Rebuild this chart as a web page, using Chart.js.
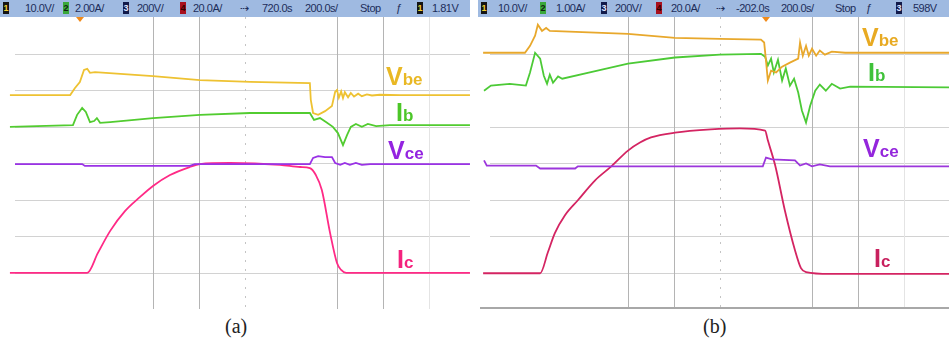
<!DOCTYPE html>
<html>
<head>
<meta charset="utf-8">
<script src="https://cdn.jsdelivr.net/npm/chart.js@4.4.0/dist/chart.umd.min.js"></script>
<style>
  html, body { margin: 0; padding: 0; background: #fff; }
  body { width: 949px; height: 347px; position: relative; overflow: hidden; font-family: "Liberation Sans", Arial, sans-serif; }
  .panel { position: absolute; top: 0; height: 310px; }
  #panelA { left: 0; width: 470px; }
  #panelB { left: 478px; width: 471px; }
  .bar { position: absolute; left: 0; top: 0; right: 0; height: 17px; background: #9fbae1; color: #1d2d5a; font-size: 11px; letter-spacing: -0.5px; }
  .bar span { position: absolute; top: 2px; line-height: 13px; white-space: nowrap; }
  .bar .ch { width: 6px; height: 12px; top: 2px; font-size: 9px; line-height: 12px; text-align: center; font-weight: bold; letter-spacing: 0; }
  .c1 { background: #141414; color: #f0d030; }
  .c2 { background: #3aa83a; color: #102010; }
  .c3 { background: #121a4a; color: #e0e6ff; }
  .c4 { background: #a8101e; color: #300; }
  canvas { position: absolute; left: 0; top: 17px; }
  .mark { position: absolute; top: 17px; width: 0; height: 0; border-left: 4px solid transparent; border-right: 4px solid transparent; border-top: 5px solid #f08a1a; }
  .lbl { position: absolute; font-weight: bold; font-size: 25px; line-height: 25px; white-space: nowrap; }
  .lbl small { font-size: 17px; }
  .cap { position: absolute; top: 315px; font-family: "Liberation Serif", "DejaVu Serif", serif; font-size: 20px; color: #222; }
</style>
</head>
<body>
<div class="panel" id="panelA">
  <div class="bar">
    <span class="ch c1" style="left:3px">1</span><span style="left:25px">10.0V/</span>
    <span class="ch c2" style="left:63px">2</span><span style="left:75px">2.00A/</span>
    <span class="ch c3" style="left:123px">3</span><span style="left:137px">200V/</span>
    <span class="ch c4" style="left:180px">4</span><span style="left:193px">20.0A/</span>
    <span style="left:240px">⇢</span><span style="left:262px">720.0s</span>
    <span style="left:305px">200.0s/</span><span style="left:360px">Stop</span>
    <span style="left:396px">ƒ</span>
    <span class="ch c1" style="left:417px">1</span><span style="left:432px">1.81V</span>
  </div>
  <div class="mark" style="left:76px"></div>
  <canvas id="chartA" width="470" height="292"></canvas>
  <div class="lbl" style="left:386px;top:64px;color:#e9b824">V<small>be</small></div>
  <div class="lbl" style="left:396px;top:100px;color:#4cc628">I<small>b</small></div>
  <div class="lbl" style="left:388px;top:138px;color:#9424e0">V<small>ce</small></div>
  <div class="lbl" style="left:397px;top:247px;color:#f4237e">I<small>c</small></div>
</div>
<div class="panel" id="panelB">
  <div class="bar">
    <span class="ch c1" style="left:3px">1</span><span style="left:20px">10.0V/</span>
    <span class="ch c2" style="left:62px">2</span><span style="left:78px">1.00A/</span>
    <span class="ch c3" style="left:123px">3</span><span style="left:137px">200V/</span>
    <span class="ch c4" style="left:178px">4</span><span style="left:193px">20.0A/</span>
    <span style="left:238px">⇢</span><span style="left:258px">-202.0s</span>
    <span style="left:303px">200.0s/</span><span style="left:357px">Stop</span>
    <span style="left:388px">ƒ</span>
    <span class="ch c3" style="left:418px">3</span><span style="left:435px">598V</span>
  </div>
  <div class="mark" style="left:284px"></div>
  <canvas id="chartB" width="471" height="292"></canvas>
  <div class="lbl" style="left:384px;top:25px;color:#e8aa22">V<small>be</small></div>
  <div class="lbl" style="left:390px;top:60px;color:#3fc23a">I<small>b</small></div>
  <div class="lbl" style="left:385px;top:136px;color:#9426dc">V<small>ce</small></div>
  <div class="lbl" style="left:396px;top:246px;color:#c8205e">I<small>c</small></div>
</div>
<div class="cap" style="left:225px">(a)</div>
<div class="cap" style="left:703px">(b)</div>

<script>
// traces in screen divisions: x from the left graticule line, y from the bottom (8 divisions high)

// (a) 2.00 A/div base current
const aVbeX = [-0.11, 0.54, 1.20, 1.30, 1.41, 1.50, 1.57, 1.63, 1.74, 3.00, 4.02, 5.11, 6.41, 6.43, 6.48, 6.59, 6.74, 6.89, 6.96, 7.00, 7.04, 7.09, 7.13, 7.17, 7.24, 7.30, 7.37, 7.46, 7.54, 7.65, 7.76, 7.93, 8.37, 9.89];
const aVbeY = [5.86, 5.86, 5.86, 6.05, 6.22, 6.55, 6.58, 6.47, 6.49, 6.38, 6.27, 6.22, 6.19, 5.73, 5.37, 5.32, 5.42, 5.56, 5.95, 6.00, 5.79, 5.96, 5.78, 5.94, 5.80, 5.92, 5.82, 5.90, 5.83, 5.88, 5.85, 5.87, 5.86, 5.86];
const aIbX = [-0.11, 1.26, 1.35, 1.46, 1.54, 1.63, 1.72, 1.78, 1.85, 2.07, 3.00, 4.02, 5.11, 6.41, 6.50, 6.63, 6.76, 6.91, 7.02, 7.13, 7.22, 7.30, 7.41, 7.54, 7.67, 7.85, 8.15, 9.89];
const aIbY = [4.99, 5.04, 5.32, 5.51, 5.40, 5.12, 5.15, 5.23, 5.10, 5.12, 5.23, 5.32, 5.37, 5.37, 5.18, 5.23, 5.12, 4.99, 4.82, 4.49, 4.77, 4.99, 5.07, 4.99, 5.07, 5.01, 5.04, 5.04];
const aVceX = [0, 1.46, 1.52, 3.80, 3.91, 6.41, 6.48, 6.59, 6.74, 6.89, 6.96, 7.07, 7.17, 7.28, 7.41, 7.54, 7.72, 9.89];
const aVceY = [3.97, 3.97, 3.92, 3.92, 3.97, 3.97, 4.14, 4.19, 4.16, 4.16, 4.00, 3.95, 4.00, 3.95, 4.00, 3.95, 3.97, 3.97];
const aIcX = [-0.11, 1.57, 1.80, 2.07, 2.39, 2.72, 3.00, 3.37, 3.80, 4.02, 4.67, 5.76, 6.20, 6.41, 6.54, 6.67, 6.85, 7.00, 7.09, 7.20, 9.89];
const aIcY = [0.99, 0.99, 1.53, 2.14, 2.68, 3.07, 3.37, 3.67, 3.89, 3.97, 4.00, 3.95, 3.89, 3.86, 3.67, 3.26, 2.08, 1.26, 1.07, 0.99, 0.99];

// (b) 1.00 A/div base current
const bVbeX = [-0.15, 0.76, 0.87, 0.98, 1.04, 1.13, 1.22, 1.30, 3.00, 4.02, 5.00, 5.89, 5.96, 6.00, 6.04, 6.11, 6.22, 6.35, 6.52, 6.70, 6.74, 6.80, 6.87, 6.93, 7.00, 7.09, 7.17, 7.28, 7.43, 7.72, 9.98];
const bVbeY = [7.02, 7.02, 7.21, 7.49, 7.79, 7.62, 7.70, 7.62, 7.54, 7.43, 7.40, 7.38, 7.30, 6.80, 6.26, 6.53, 6.48, 6.64, 6.75, 6.86, 7.30, 6.94, 7.21, 6.94, 7.13, 6.94, 7.08, 6.97, 7.05, 7.02, 7.02];
const bIbX = [-0.13, 0.02, 0.43, 0.78, 0.87, 0.98, 1.09, 1.17, 1.24, 1.30, 1.37, 1.48, 1.57, 2.17, 3.00, 4.02, 5.00, 5.89, 5.98, 6.04, 6.11, 6.17, 6.26, 6.35, 6.43, 6.52, 6.61, 6.70, 6.78, 6.87, 6.96, 7.07, 7.17, 7.30, 7.43, 7.61, 7.83, 9.98];
const bIbY = [5.98, 6.12, 6.17, 6.12, 6.48, 7.02, 6.86, 6.39, 6.17, 6.42, 6.20, 6.37, 6.31, 6.48, 6.72, 6.89, 6.97, 6.99, 6.91, 6.67, 6.86, 6.48, 6.83, 6.26, 6.59, 6.12, 6.31, 5.93, 5.44, 5.11, 5.57, 5.98, 6.15, 5.98, 6.17, 6.04, 6.09, 6.07];
const bVceX = [-0.13, -0.07, 1.00, 1.09, 1.85, 1.91, 5.93, 6.00, 6.13, 6.63, 6.74, 6.87, 7.00, 7.17, 7.39, 9.98];
const bVceY = [4.07, 3.93, 3.93, 3.85, 3.85, 3.91, 3.91, 4.15, 4.10, 4.07, 3.93, 3.99, 3.91, 3.96, 3.91, 3.91];
const bIcX = [-0.15, 1.09, 1.26, 1.41, 1.63, 1.91, 2.28, 2.63, 3.00, 3.26, 3.50, 4.02, 4.80, 5.43, 5.98, 6.04, 6.20, 6.41, 6.63, 6.76, 6.87, 7.39, 9.98];
const bIcY = [0.98, 0.98, 1.56, 2.08, 2.57, 2.98, 3.52, 3.90, 4.34, 4.56, 4.70, 4.83, 4.92, 4.95, 4.89, 4.62, 3.93, 2.70, 1.61, 1.12, 1.01, 0.96, 0.96];

// graticule lines that are visible in each screenshot
const rowsA = [1, 2, 3, 4, 5, 6, 7];
const rowsB = [1, 2, 3, 4, 5, 7];
const colsMain = [3, 4, 7, 8];
const colsFaint = [9];

function zip(xs, ys) {
    return xs.map((x, i) => ({ x: x, y: ys[i] }));
}

// draws the scope graticule through the chart scales
const scopeGrid = {
    id: 'scopeGrid',
    beforeDatasetsDraw(chart, args, opts) {
        const ctx = chart.ctx;
        const area = chart.chartArea;
        const x = chart.scales.x;
        const y = chart.scales.y;
        ctx.save();
        ctx.lineWidth = 1;

        ctx.strokeStyle = '#d2d2d2';
        opts.rows.forEach(v => {
            const py = Math.round(y.getPixelForValue(v)) + 0.5;
            ctx.beginPath();
            ctx.moveTo(x.getPixelForValue(0), py);
            ctx.lineTo(area.right, py);
            ctx.stroke();
        });

        ctx.strokeStyle = '#b4b4b4';
        colsMain.forEach(v => {
            const px = Math.round(x.getPixelForValue(v)) + 0.5;
            ctx.beginPath();
            ctx.moveTo(px, area.top);
            ctx.lineTo(px, area.bottom);
            ctx.stroke();
        });

        ctx.strokeStyle = '#e4e4e4';
        colsFaint.forEach(v => {
            const px = Math.round(x.getPixelForValue(v)) + 0.5;
            ctx.beginPath();
            ctx.moveTo(px, area.top);
            ctx.lineTo(px, area.bottom);
            ctx.stroke();
        });

        // centre axis with its small tick marks
        ctx.strokeStyle = '#c4c4c4';
        ctx.setLineDash([2, 7]);
        const cx = Math.round(x.getPixelForValue(5)) + 0.5;
        ctx.beginPath();
        ctx.moveTo(cx, area.top);
        ctx.lineTo(cx, area.bottom);
        ctx.stroke();
        ctx.setLineDash([]);

        if (opts.baseline) {
            ctx.strokeStyle = '#a8a8a8';
            ctx.lineWidth = 2;
            ctx.beginPath();
            ctx.moveTo(area.left + 2, area.bottom - 1);
            ctx.lineTo(area.right, area.bottom - 1);
            ctx.stroke();
        }
        ctx.restore();
    }
};

function makeScope(canvasId, traces, colors, xMin, xMax, rows, baseline) {
    const ctx = document.getElementById(canvasId).getContext('2d');
    return new Chart(ctx, {
        type: 'line',
        data: {
            datasets: traces.map((t, i) => ({
                label: t.name,
                data: zip(t.x, t.y),
                borderColor: colors[i],
                borderWidth: 1.8,
                pointRadius: 0,
                tension: 0,
                // the collector current is a smooth curve on the scope
                cubicInterpolationMode: t.name === 'Ic' ? 'monotone' : 'default',
                fill: false
            }))
        },
        options: {
            responsive: false,
            animation: false,
            devicePixelRatio: 1,
            layout: { padding: 0 },
            events: [],
            plugins: {
                legend: { display: false },
                tooltip: { enabled: false },
                scopeGrid: { rows: rows, baseline: baseline }
            },
            scales: {
                x: { type: 'linear', display: false, min: xMin, max: xMax },
                y: { type: 'linear', display: false, min: 0, max: 8 }
            }
        },
        plugins: [scopeGrid]
    });
}

makeScope('chartA', [
    { name: 'Vbe', x: aVbeX, y: aVbeY },
    { name: 'Ib', x: aIbX, y: aIbY },
    { name: 'Vce', x: aVceX, y: aVceY },
    { name: 'Ic', x: aIcX, y: aIcY }
], ['#eec232', '#52cc30', '#9a32e6', '#ff2a86'], -0.326, 9.891, rowsA, false);

makeScope('chartB', [
    { name: 'Vbe', x: bVbeX, y: bVbeY },
    { name: 'Ib', x: bIbX, y: bIbY },
    { name: 'Vce', x: bVceX, y: bVceY },
    { name: 'Ic', x: bIcX, y: bIcY }
], ['#e8a82c', '#4cca36', '#9c36dc', '#d42462'], -0.261, 9.978, rowsB, true);
</script>
</body>
</html>
